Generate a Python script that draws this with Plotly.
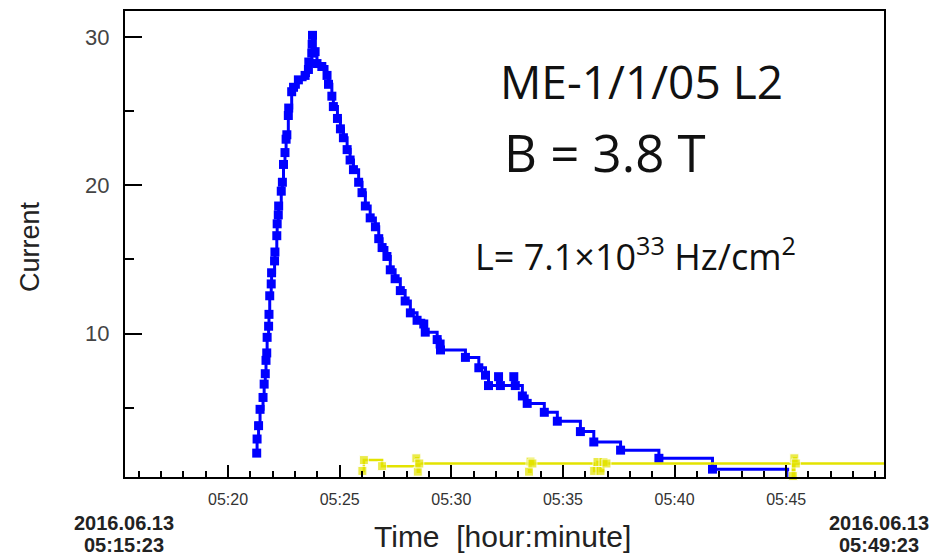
import plotly.graph_objects as go

DAY = "2016-06-13 "

# ---- data ----
blue_times = ["05:21:17", "05:21:18", "05:21:22", "05:21:26", "05:21:34", "05:21:37", "05:21:40",
              "05:21:42", "05:21:44", "05:21:45", "05:21:49", "05:21:50", "05:21:52", "05:21:56",
              "05:21:57", "05:22:05", "05:22:06", "05:22:11", "05:22:12", "05:22:15", "05:22:16",
              "05:22:23", "05:22:26", "05:22:29", "05:22:33", "05:22:36", "05:22:38", "05:22:42",
              "05:22:43", "05:22:51", "05:22:56", "05:23:09", "05:23:27", "05:23:36", "05:23:37",
              "05:23:45", "05:23:46", "05:23:47", "05:23:54", "05:23:59", "05:24:12", "05:24:26",
              "05:24:30", "05:24:39", "05:24:43", "05:24:54", "05:25:02", "05:25:10", "05:25:20",
              "05:25:28", "05:25:37", "05:25:51", "05:26:00", "05:26:09", "05:26:22", "05:26:36",
              "05:26:45", "05:26:54", "05:27:07", "05:27:16", "05:27:29", "05:27:43", "05:27:56",
              "05:28:10", "05:28:28", "05:28:46", "05:28:50", "05:29:22", "05:29:30", "05:29:31",
              "05:30:38", "05:31:14", "05:31:32", "05:31:40", "05:32:07", "05:32:12", "05:32:48",
              "05:32:52", "05:33:11", "05:33:24", "05:34:10", "05:34:45", "05:35:47", "05:36:23",
              "05:37:35", "05:39:18", "05:41:42", "05:45:04"]
blue_current = [1.95, 2.9, 3.8, 4.9, 5.7, 6.6, 7.3,
                8.2, 8.7, 9.75, 10.5, 11.3, 12.55, 13.35,
                14.1, 14.9, 15.5, 16.6, 17.4, 18.0, 18.6,
                19.6, 20.2, 21.4, 22.2, 23.1, 23.4, 24.7,
                25.2, 26.3, 26.6, 27.1, 27.4, 27.8, 28.3,
                28.9, 29.5, 30.1, 29.0, 28.2, 28.0, 27.4,
                26.8, 26.0, 25.3, 24.5, 23.8, 23.2, 22.4,
                21.7, 21.05, 20.2, 19.5, 18.6, 17.8, 17.2,
                16.4, 15.8, 15.2, 14.3, 13.7, 12.9, 12.2,
                11.4, 10.9, 10.65, 10.1, 9.6, 9.3, 8.9,
                8.4, 7.7, 7.2, 6.5, 7.1, 6.5, 7.1,
                6.5, 5.8, 5.3, 4.7, 4.1, 3.4, 2.7,
                2.15, 1.6, 0.87, 0.3]

yellow_times = ["05:26:01", "05:26:05", "05:26:54", "05:28:26", "05:28:30", "05:28:34",
                "05:33:29", "05:33:33", "05:33:38", "05:36:24", "05:36:33", "05:36:41",
                "05:36:49", "05:36:57", "05:45:18", "05:45:22", "05:45:26", "05:49:23"]
yellow_current = [0.75, 1.48, 1.07, 1.6, 0.7, 1.25,
                  0.7, 1.38, 1.25, 0.75, 1.35, 0.75,
                  1.35, 1.25, 0.4, 1.6, 1.25, 1.25]
yellow_marker_size = [9] * 17 + [0]

x_start = "05:15:23"
x_end = "05:49:23"
y_tickvals = [10, 20, 30]
x_ticks = ["05:20", "05:25", "05:30", "05:35", "05:40", "05:45"]
date_label = "2016.06.13"

# ---- layout geometry (page offset of 8 px from body margin) ----
OFF = 8
W, H = 940 - OFF, 556 - OFF
PL, PT, PR, PB = 125, 9, 884, 477          # plot box in page pixels
L, T = PL - OFF, PT - OFF
R, B = W - (PR - OFF), H - (PB - OFF)


def px(x):
    return (x - PL) / (PR - PL)


def py(y):
    return (PB - y) / (PB - PT)


fig = go.Figure()
fig.add_trace(go.Scatter(
    x=[DAY + t for t in blue_times], y=blue_current,
    mode="lines+markers", line=dict(color="#0000FF", width=3, shape="hv"),
    marker=dict(symbol="square", size=9, color="#0000FF"),
    cliponaxis=False, showlegend=False))
fig.add_trace(go.Scatter(
    x=[DAY + t for t in yellow_times], y=yellow_current,
    mode="lines+markers", line=dict(color="#E3E300", width=2.5, shape="hv"),
    marker=dict(symbol="square", size=yellow_marker_size, color="#E3E300"),
    cliponaxis=False, showlegend=False))

axis_common = dict(showline=True, linecolor="black", linewidth=2, mirror=True,
                   showgrid=False, zeroline=False, ticks="inside", tickcolor="black",
                   tickwidth=1.5)

fig.update_xaxes(**axis_common, type="date",
                 range=[DAY + x_start, DAY + x_end],
                 tickvals=[DAY + t for t in x_ticks], ticktext=x_ticks, ticklen=12,
                 minor=dict(dtick=60000, tick0=DAY + "05:20:00", ticks="inside",
                            ticklen=6, tickcolor="black", tickwidth=1.5),
                 tickfont=dict(family="Liberation Sans", size=16, color="#333"),
                 ticklabelstandoff=7)
fig.update_yaxes(**axis_common, range=[0.34, 31.74],
                 tickvals=y_tickvals, ticklen=17,
                 minor=dict(dtick=5, tick0=0, ticks="inside", ticklen=9,
                            tickcolor="black", tickwidth=1.5),
                 tickfont=dict(family="Liberation Sans", size=22, color="#444"),
                 ticklabelstandoff=9)

ann = []
ann.append(dict(text="ME-1/1/05 L2", x=px(641), y=py(79), font=dict(family="Open Sans", size=46, color="#111")))
ann.append(dict(text="B = 3.8 T", x=px(605), y=py(151), font=dict(family="Open Sans", size=51, color="#111")))
ann.append(dict(text="L= 7.1\u00d710<sup>33</sup> Hz/cm<sup>2</sup>", x=px(635), y=py(254),
                font=dict(family="Open Sans", size=36, color="#111")))
ann.append(dict(text="Current", x=px(30), y=py(246), textangle=-90,
                font=dict(family="Liberation Sans", size=27, color="#222")))
ann.append(dict(text="Time  [hour:minute]", x=px(502), y=py(537),
                font=dict(family="Liberation Sans", size=30, color="#222")))
for cx, tstr in [(124, x_start), (879, x_end)]:
    ann.append(dict(text="<b>" + date_label + "</b>", x=px(cx), y=py(523),
                    font=dict(family="Liberation Sans", size=20, color="#222")))
    ann.append(dict(text="<b>" + tstr + "</b>", x=px(cx), y=py(545),
                    font=dict(family="Liberation Sans", size=20, color="#222")))
for a in ann:
    a.update(xref="paper", yref="paper", showarrow=False, xanchor="center", yanchor="middle")

fig.update_layout(width=W, height=H, margin=dict(l=L, r=R, t=T, b=B),
                  paper_bgcolor="white", plot_bgcolor="white", annotations=ann)

fig.write_html("out.html")
